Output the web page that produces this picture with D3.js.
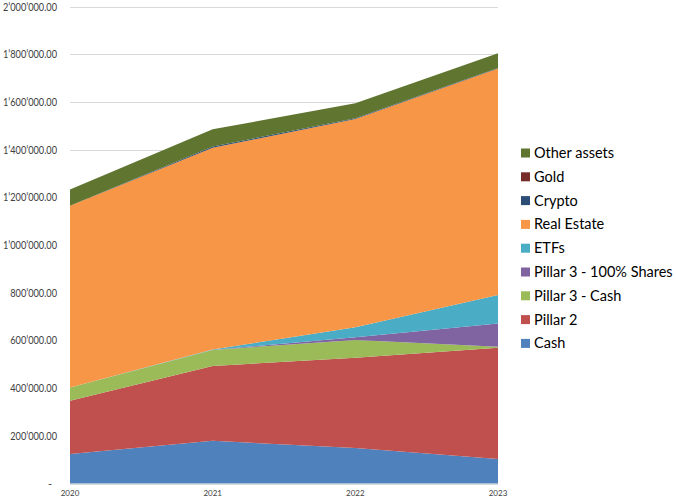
<!DOCTYPE html>
<html><head><meta charset="utf-8">
<script src="https://cdn.jsdelivr.net/npm/d3@7"></script>
<style>body{margin:0;background:#fff}svg{display:block}</style>
</head><body><svg id="c" width="676" height="500"></svg>
<script>
const years = ["2020","2021","2022","2023"];
const seriesNames = ["Cash","Pillar 2","Pillar 3 - Cash","Pillar 3 - 100% Shares","ETFs","Real Estate","Crypto","Gold","Other assets"];
const cash        = [124000,179000,149000,103000];
const pillar2     = [223000,314000,378000,466000];
const pillar3Cash = [56000,67000,75000,4000];
const pillar3Shares=[0,0,11000,98000];
const etfs        = [0,2000,42000,119000];
const realEstate  = [762000,846000,873000,950000];
const crypto      = [0,5000,3000,2000];
const gold        = [0,0,0,0];
const otherAssets = [68000,72000,63000,62000];
const yTicks = [0,200000,400000,600000,800000,1000000,1200000,1400000,1600000,1800000,2000000];
const colors = ["#4F81BD","#C0504D","#9BBB59","#8064A2","#4BACC6","#F79646","#2C4D75","#772C2A","#5F7530"];

const valuesBySeries = [cash,pillar2,pillar3Cash,pillar3Shares,etfs,realEstate,crypto,gold,otherAssets];
const table = years.map((y,i)=>{const o={year:y};seriesNames.forEach((n,k)=>o[n]=valuesBySeries[k][i]);return o;});

const svg = d3.select("#c");
const x = d3.scalePoint().domain(years).range([70,498]);
const y = d3.scaleLinear().domain([0,2000000]).range([483.5,6.5]);
const font = "Lato, 'Open Sans', sans-serif";

// gridlines
svg.append("g").selectAll("line").data(yTicks).join("line")
  .attr("x1",70).attr("x2",498).attr("y1",d=>Math.round(y(d))+0.5).attr("y2",d=>Math.round(y(d))+0.5)
  .attr("stroke","#d9d9d9").attr("stroke-width",1);

const stack = d3.stack().keys(seriesNames)(table);
const area = d3.area().x(d=>x(d.data.year)).y0(d=>y(d[0])).y1(d=>y(d[1]));
svg.append("g").selectAll("path").data(stack).join("path")
  .attr("d",area).attr("fill",(d,i)=>colors[i]);

// y labels
const fmt = v => v===0 ? "-" : d3.format(",.2f")(v).replace(/,/g,"\u2019");
const yl = svg.append("g").selectAll("text").data(yTicks).join("text")
  .attr("x",d=>d===0?52:57).attr("y",d=>y(d)+4).attr("text-anchor","end")
  .attr("font-family",font).attr("font-size",11).attr("fill","#404040").text(fmt);
// condense horizontally so the widest label is ~54px, keeping 11px height
let maxW = 0; yl.each(function(){maxW=Math.max(maxW,this.getComputedTextLength());});
const k = 54/maxW;
yl.each(function(d){ if(d!==0){ const w=this.getComputedTextLength(); d3.select(this).attr("textLength",w*k).attr("lengthAdjust","spacingAndGlyphs"); } });

// x labels
svg.append("g").selectAll("text").data(years).join("text")
  .attr("x",d=>x(d)).attr("y",496).attr("text-anchor","middle")
  .attr("font-family",font).attr("font-size",8).attr("fill","#404040").text(d=>d);

// legend
const leg = svg.append("g");
const order = seriesNames.map((n,i)=>({n,c:colors[i]})).reverse();
const li = leg.selectAll("g").data(order).join("g")
  .attr("transform",(d,i)=>`translate(521,${153+i*23.8})`);
li.append("rect").attr("x",0).attr("y",-4.5).attr("width",9).attr("height",9).attr("fill",d=>d.c);
li.append("text").attr("x",13).attr("y",5).attr("font-family",font).attr("font-size",14.5)
  .attr("fill","#000").text(d=>d.n);
</script></body></html>
